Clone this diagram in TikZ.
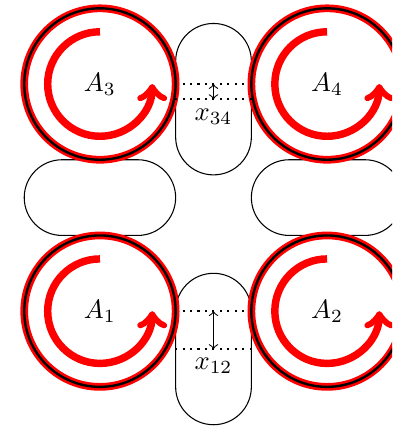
\documentclass[tikz,border=0pt]{standalone}
\begin{document}
\begin{tikzpicture}[
  wheel/.style={circle,draw=red,line width=1pt,double=black,double distance=0.9pt,minimum size=2cm,inner sep=0pt},
  vpad/.style={draw,rounded corners=0.5cm,minimum width=1cm,minimum height=2cm,inner sep=0pt},
  hpad/.style={draw,rounded corners=0.5cm,minimum width=2cm,minimum height=1cm,inner sep=0pt},
  spin/.style={red,line width=2.8pt,->},
  gapline/.style={dotted,thick}]
\clip (-1.32,-1.53) rectangle (3.86,4.11);
% pads between the wheels
\node[vpad] (p34) at (1.5,2.8) {};
\node[vpad] (p12) at (1.5,-0.5) {};
\node[hpad] (h13) at (0,1.5) {};
\node[hpad] (h24) at (3,1.5) {};
% wheels
\node[wheel] (a1) at (0,0) {$A_1$};
\node[wheel] (a2) at (3,0) {$A_2$};
\node[wheel] (a3) at (0,3) {$A_3$};
\node[wheel] (a4) at (3,3) {$A_4$};
\foreach \w in {a1,a2,a3,a4}
  \draw[spin] (\w.center) ++(90:0.69) arc[start angle=90,end angle=360,radius=0.69];
% gaps
\draw[gapline] (p34.west |- a3) -- (p34.east |- a3);
\draw[gapline] (p34.west) -- (p34.east);
\draw[<->] (p34.center |- a3) -- (p34.center);
\node[below] (x34) at (p34.center) {$x_{34}$};
\draw[gapline] (p12.west |- a1) -- (p12.east |- a1);
\draw[gapline] (p12.west) -- (p12.east);
\draw[<->] (p12.center |- a1) -- (p12.center);
\node[below] (x12) at (p12.center) {$x_{12}$};
\end{tikzpicture}
\end{document}
